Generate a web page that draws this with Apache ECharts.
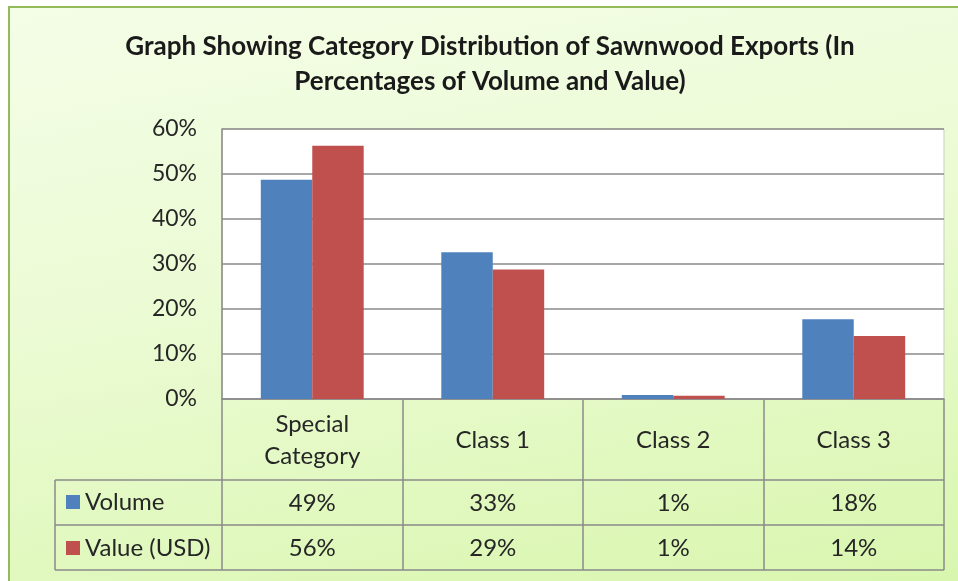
<!DOCTYPE html>
<html>
<head>
<meta charset="utf-8">
<script src="https://cdn.jsdelivr.net/npm/echarts@6/dist/echarts.min.js"></script>
<style>
  html, body { margin: 0; padding: 0; background: #fff; }
  #wrap { position: relative; width: 958px; height: 581px; overflow: hidden; }
  #bg {
    position: absolute; left: 8px; top: 6px; width: 960px; height: 590px;
    border-top: 2px solid #93ba5b; border-left: 2px solid #93ba5b;
    background: linear-gradient(170deg, #f4fde7 0%, #ebfbd3 45%, #d8f6ad 100%);
  }
  #main { position: absolute; left: 0; top: 0; width: 958px; height: 581px; }
</style>
</head>
<body>
<div id="wrap">
  <div id="bg"></div>
  <div id="main"></div>
</div>
<script>
  var categories = ['Special Category', 'Class 1', 'Class 2', 'Class 3']
  var volume = [48.7, 32.6, 0.9, 17.7]
  var valueUsd = [56.3, 28.8, 0.7, 14.0]
  var seriesNames = ['Volume', 'Value (USD)']
  var yTicks = [0, 10, 20, 30, 40, 50, 60]

  var FONT = 'Lato'
  var TXT = '#262626'
  var LINE = '#8a8a8a'

  // layout of plot area + data table
  var gLeft = 222, gRight = 944, gTop = 129, gBottom = 399
  var tLeft = 55, rowHead = 480, rowVol = 525, rowVal = 570

  var chart = echarts.init(document.getElementById('main'))

  function pct(v) { return Math.round(v) + '%' }

  function hLine(x1, x2, y) {
    return { type: 'line', shape: { x1: x1, y1: y, x2: x2, y2: y }, style: { stroke: LINE, lineWidth: 1.5 }, z: 10 }
  }
  function vLine(x, y1, y2) {
    return { type: 'line', shape: { x1: x, y1: y1, x2: x, y2: y2 }, style: { stroke: LINE, lineWidth: 1.5 }, z: 10 }
  }

  chart.setOption({
    backgroundColor: 'transparent',
    textStyle: { fontFamily: FONT },
    title: {
      text: 'Graph Showing Category Distribution of Sawnwood Exports (In\nPercentages of Volume and Value)',
      left: 490,
      textAlign: 'center',
      top: 29,
      padding: 0,
      textStyle: { fontFamily: FONT, fontWeight: 'bold', fontSize: 26, lineHeight: 35, color: '#1a1a1a' }
    },
    legend: {
      data: seriesNames,
      orient: 'vertical',
      left: 66,
      top: 490,
      padding: 0,
      itemWidth: 14,
      itemHeight: 14,
      itemGap: 22,
      icon: 'rect',
      textStyle: { fontFamily: FONT, fontSize: 24, lineHeight: 24, color: TXT }
    },
    grid: {
      left: gLeft,
      right: 958 - gRight,
      top: gTop,
      bottom: 581 - gBottom,
      show: true,
      backgroundColor: '#ffffff',
      borderColor: '#c9cfc0',
      borderWidth: 1
    },
    xAxis: [{
      type: 'category',
      data: categories,
      axisLine: { show: true, lineStyle: { color: LINE, width: 1.5 } },
      axisTick: { show: true, length: rowVal - gBottom, lineStyle: { color: LINE, width: 1.5 } },
      axisLabel: {
        interval: 0,
        margin: 41,
        verticalAlign: 'middle',
        lineHeight: 32,
        fontSize: 24,
        color: TXT,
        formatter: function (v) { return v.indexOf('Class') === 0 ? v : v.replace(' ', '\n') }
      }
    }, {
      type: 'category',
      position: 'bottom',
      offset: rowHead - gBottom,
      data: volume.map(pct),
      axisLine: { show: false },
      axisTick: { show: false },
      axisLabel: { interval: 0, margin: 23, verticalAlign: 'middle', fontSize: 24, color: TXT }
    }, {
      type: 'category',
      position: 'bottom',
      offset: rowVol - gBottom,
      data: valueUsd.map(pct),
      axisLine: { show: false },
      axisTick: { show: false },
      axisLabel: { interval: 0, margin: 23, verticalAlign: 'middle', fontSize: 24, color: TXT }
    }],
    yAxis: {
      type: 'value',
      min: yTicks[0],
      max: yTicks[yTicks.length - 1],
      interval: yTicks[1] - yTicks[0],
      axisLine: { show: true, lineStyle: { color: LINE, width: 1.5 } },
      axisTick: { show: false },
      splitLine: { show: true, lineStyle: { color: LINE, width: 1.5 } },
      axisLabel: { margin: 25, fontSize: 23, color: TXT, formatter: '{value}%' }
    },
    series: [{
      name: seriesNames[0],
      type: 'bar',
      data: volume,
      barGap: '0%',
      barCategoryGap: '43%',
      itemStyle: { color: '#4f81bd' }
    }, {
      name: seriesNames[1],
      type: 'bar',
      data: valueUsd,
      itemStyle: { color: '#c0504d' }
    }],
    graphic: [
      hLine(tLeft, gRight, rowHead),
      hLine(tLeft, gRight, rowVol),
      hLine(tLeft, gRight, rowVal),
      vLine(tLeft, rowHead, rowVal)
    ]
  })

  window.addEventListener('resize', function () {
    chart.resize()
  })
</script>
</body>
</html>
